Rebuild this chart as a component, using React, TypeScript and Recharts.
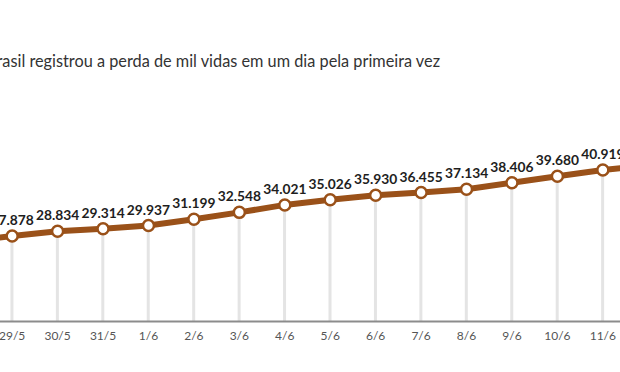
import React from "react";
import { ComposedChart, Line, Bar, XAxis, YAxis, LabelList } from "recharts";

const dates = ["28/5", "29/5", "30/5", "31/5", "1/6", "2/6", "3/6", "4/6", "5/6", "6/6", "7/6", "8/6", "9/6", "10/6", "11/6", "12/6"];
const deaths = [26754, 27878, 28834, 29314, 29937, 31199, 32548, 34021, 35026, 35930, 36455, 37134, 38406, 39680, 40919, 41828];
const title = "O Brasil registrou a perda de mil vidas em um dia pela primeira vez";

const data = dates.map((d, i) => ({ d, v: deaths[i] }));

const fmt = (v: number) => v.toLocaleString("pt-BR");

const BROWN = "#9a5119";

export default function App() {
  return (
    <div style={{ position: "fixed", left: 0, top: 0, width: 620, height: 372, overflow: "hidden", background: "#fff" }}>
      <div
        style={{
          position: "absolute",
          right: 180,
          top: 52,
          whiteSpace: "nowrap",
          fontFamily: "Lato, sans-serif",
          fontSize: 16.3,
          lineHeight: "18px",
          color: "#333",
        }}
      >
        {title}
      </div>
      <div style={{ position: "absolute", left: -56, top: 0 }}>
        <ComposedChart width={727} height={372} data={data} margin={{ top: 119, right: 0, bottom: 0, left: 0 }}>
          <XAxis
            dataKey="d"
            height={50.6}
            tickLine={false}
            axisLine={{ stroke: "#8c8c8c", strokeWidth: 2 }}
            tickMargin={4}
            tick={{ fill: "#555", fontSize: 12, fontFamily: "Lato, sans-serif" }}
            interval={0}
          />
          <YAxis hide domain={[11000, 51000]} allowDataOverflow />
          <Bar dataKey="v" fill="#e4e4e4" barSize={3} isAnimationActive={false} />
          <Line
            dataKey="v"
            stroke={BROWN}
            strokeWidth={6}
            dot={{ r: 5.5, fill: "#fff", stroke: BROWN, strokeWidth: 2.5 }}
            activeDot={false}
            isAnimationActive={false}
          >
            <LabelList
              dataKey="v"
              position="top"
              offset={11}
              formatter={(v: any) => fmt(Number(v))}
              style={{ fill: "#1e1e1e", fontSize: 13.8, fontWeight: 700, fontFamily: "Lato, sans-serif" }}
            />
          </Line>
        </ComposedChart>
      </div>
    </div>
  );
}
